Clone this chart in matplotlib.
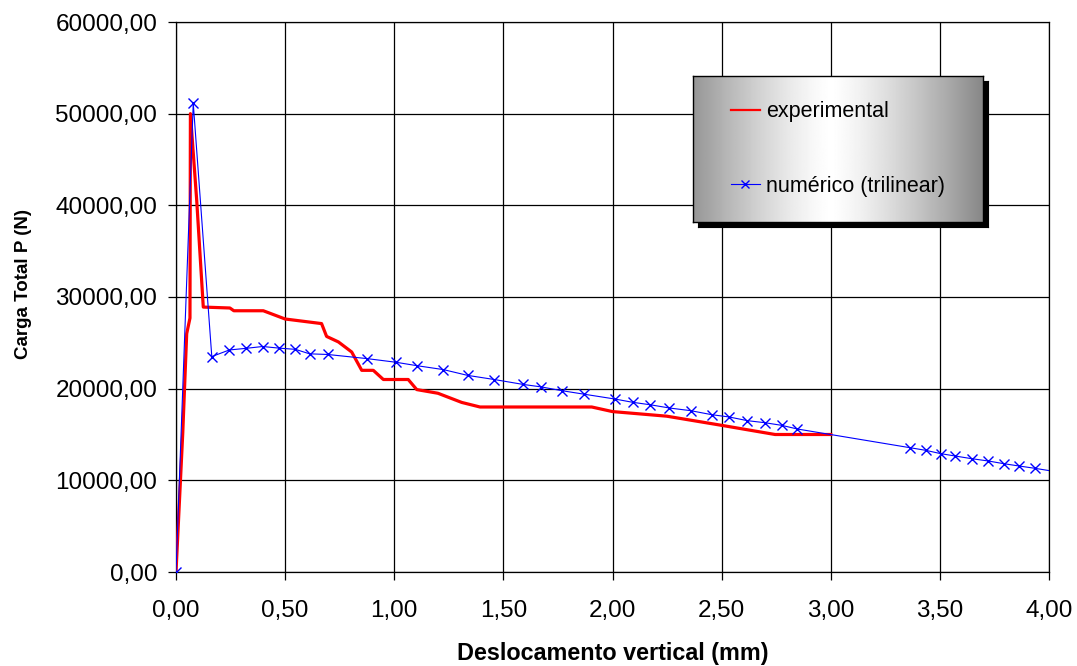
import numpy as np
import matplotlib
matplotlib.use("Agg")
import matplotlib.pyplot as plt
from matplotlib.ticker import MultipleLocator, FuncFormatter
from matplotlib.lines import Line2D

plt.rcParams["font.family"] = ["Liberation Sans", "DejaVu Sans"]

# experimental curve (mm, N)
exp_x = [0, 0.031, 0.049, 0.064, 0.066, 0.095, 0.125, 0.247, 0.265, 0.40,
         0.50, 0.667, 0.69, 0.744, 0.805, 0.851, 0.904, 0.95, 1.064, 1.103,
         1.20, 1.309, 1.393, 1.905, 2.0, 2.248, 2.50, 2.745, 3.0]
exp_y = [0, 15200, 26000, 27700, 50000, 40500, 28900, 28800, 28500, 28500,
         27600, 27100, 25700, 25100, 24000, 22000, 22000, 21000, 21000, 19900,
         19500, 18500, 18000, 18000, 17500, 17000, 16000, 15000, 15000]

# numerical (trilinear) curve
num_x = [0, 0.079, 0.164, 0.244, 0.321, 0.397, 0.473, 0.547, 0.612, 0.695,
         0.875, 1.008, 1.103, 1.225, 1.336, 1.458, 1.591, 1.671, 1.768, 1.869,
         2.011, 2.093, 2.174, 2.261, 2.358, 2.455, 2.535, 2.618, 2.697, 2.775,
         2.847, 3.363, 3.436, 3.504, 3.571, 3.646, 3.722, 3.794, 3.864, 3.936,
         4.05]
num_y = [0, 51150, 23500, 24220, 24400, 24600, 24420, 24290, 23800, 23730,
         23280, 22880, 22510, 22080, 21450, 21000, 20460, 20200, 19780, 19400,
         18870, 18510, 18240, 17890, 17600, 17160, 16910, 16510, 16290, 16000,
         15600, 13560, 13270, 12910, 12650, 12360, 12110, 11810, 11560, 11310,
         10870]

labels = ["experimental", "numérico (trilinear)"]

fig = plt.figure(figsize=(10.77, 6.66), dpi=100)
ax = fig.add_axes([176 / 1077, 1 - 572 / 666, 873 / 1077, 550 / 666])

ax.plot(exp_x, exp_y, color="#ff0000", lw=2.3, zorder=3)
ax.plot(num_x, num_y, color="#0000ff", lw=0.8, marker="x", ms=6.5, mew=1.0,
        zorder=4)

ax.set_xlim(0, 4)
ax.set_ylim(0, 60000)
ax.xaxis.set_major_locator(MultipleLocator(0.5))
ax.yaxis.set_major_locator(MultipleLocator(10000))
fmt = FuncFormatter(lambda v, pos: f"{v:.2f}".replace(".", ","))
ax.xaxis.set_major_formatter(fmt)
ax.yaxis.set_major_formatter(fmt)
ax.grid(True, color="black", lw=0.9)
ax.set_axisbelow(True)
ax.tick_params(axis="both", direction="out", length=5.5, width=0.9,
               labelsize=17.5, color="black")
ax.tick_params(axis="x", pad=15)
ax.tick_params(axis="y", pad=8)
for s in ax.spines.values():
    s.set_color("black")
    s.set_linewidth(0.9)

ax.set_xlabel("Deslocamento vertical (mm)", fontsize=16.8, fontweight="bold")
ax.set_ylabel("Carga Total P (N)", fontsize=13.5, fontweight="bold")
ax.xaxis.set_label_coords(0.5, -0.127)
ax.yaxis.set_label_coords(-0.165, 0.524)

# legend box with shadow and horizontal gray-white-gray gradient
lx, ly, lw_, lh = 693 / 1077, 1 - 222 / 666, 290 / 1077, 146 / 666
shadow = fig.add_axes([lx + 5 / 1077, ly - 5 / 666, lw_, lh])
shadow.set_facecolor("black")
shadow.set_xticks([])
shadow.set_yticks([])
lax = fig.add_axes([lx, ly, lw_, lh])
t = np.linspace(0, 1, 300)
prof = 1 - 0.44 * np.abs(2 * t - 0.95) ** 1.3
lax.imshow(prof[None, :], cmap="gray", vmin=0, vmax=1, aspect="auto",
           extent=[0, 1, 0, 1])
lax.set_xlim(0, 1)
lax.set_ylim(0, 1)
lax.set_xticks([])
lax.set_yticks([])
for s in lax.spines.values():
    s.set_color("black")
    s.set_linewidth(1.0)
handles = [Line2D([], [], color="#ff0000", lw=1.6),
           Line2D([], [], color="#0000ff", lw=0.8, marker="x", ms=6)]
lax.legend(handles, labels, loc="center left", bbox_to_anchor=(0.1, 0.5),
           frameon=False, fontsize=15.5, handlelength=1.35, handletextpad=0.3,
           labelspacing=2.5, borderaxespad=0)

fig.savefig("out.png", dpi=100)
